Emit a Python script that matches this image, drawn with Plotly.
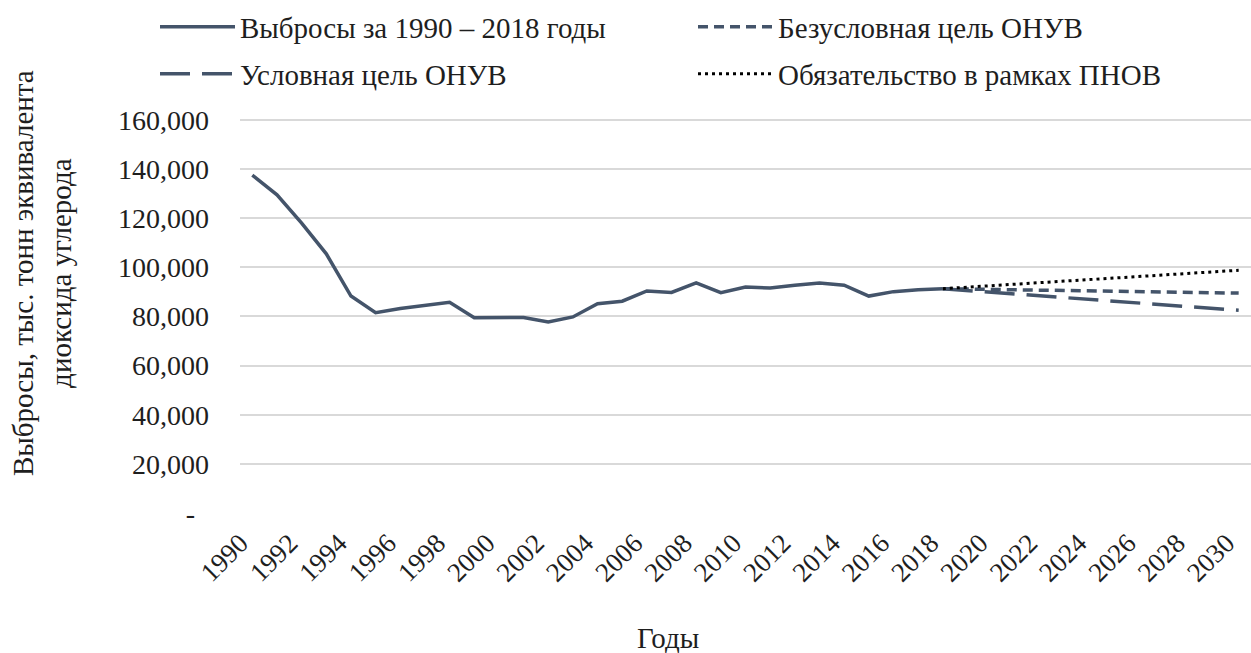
import plotly.graph_objects as go

# ---- data ----
years_hist = list(range(1990, 2019))
emissions = [137500, 129500, 118000, 105500, 88300, 81500, 83200, 84500, 85800,
             79500, 79500, 79600, 77800, 79800, 85200, 86200, 90400, 89800,
             93700, 89700, 92000, 91600, 92700, 93600, 92700, 88300, 90100,
             90900, 91300]
years_target = [2018, 2030]
unconditional = [91300, 89500]
conditional = [91300, 82500]
pnov = [91300, 98800]

x_ticks = list(range(1990, 2031, 2))
y_ticks = [0, 20000, 40000, 60000, 80000, 100000, 120000, 140000, 160000]
y_ticktext = ["-\u00a0\u00a0", "20,000", "40,000", "60,000", "80,000", "100,000",
              "120,000", "140,000", "160,000"]

names = ["Выбросы за 1990 – 2018 годы", "Безусловная цель ОНУВ",
         "Условная цель ОНУВ", "Обязательство в рамках ПНОВ"]

FONT = "Liberation Serif"
TXT = "#1e1e1e"
C = "#44546A"

W, H = 1251, 653
L, R, T, B = 240, 0, 115, 140
pw, ph = W - L - R, H - T - B

def px_x(px):
    return (px - L) / pw

def px_y(py):
    return (H - B - py) / ph

fig = go.Figure()
fig.add_trace(go.Scatter(x=years_hist, y=emissions, mode="lines", name=names[0],
                         line=dict(color=C, width=3.5), legend="legend"))
fig.add_trace(go.Scatter(x=years_target, y=unconditional, mode="lines", name=names[1],
                         line=dict(color=C, width=3.5, dash="10px,6px"), legend="legend2"))
fig.add_trace(go.Scatter(x=years_target, y=conditional, mode="lines", name=names[2],
                         line=dict(color=C, width=3.5, dash="30px,12px"), legend="legend3"))
fig.add_trace(go.Scatter(x=years_target, y=pnov, mode="lines", name=names[3],
                         line=dict(color="#000000", width=3, dash="3px,4px"), legend="legend4"))

leg_common = dict(orientation="h", xanchor="left", yanchor="middle",
                  font=dict(family=FONT, size=29, color=TXT),
                  itemwidth=75, bgcolor="rgba(0,0,0,0)")
col1, col2 = 155, 693
row1, row2 = 27, 74
fig.update_layout(
    width=W, height=H,
    margin=dict(l=L, r=R, t=T, b=B, autoexpand=False),
    paper_bgcolor="white", plot_bgcolor="white",
    font=dict(family=FONT, size=28, color=TXT),
    showlegend=True,
    legend=dict(x=px_x(col1), y=px_y(row1), **leg_common),
    legend2=dict(x=px_x(col2), y=px_y(row1), **leg_common),
    legend3=dict(x=px_x(col1), y=px_y(row2), **leg_common),
    legend4=dict(x=px_x(col2), y=px_y(row2), **leg_common),
    xaxis=dict(range=[1989.5, 2030.5], tickvals=x_ticks, tickangle=-45,
               showgrid=False, zeroline=False, showline=False, ticks="",
               ticklabelstandoff=8, ticklabelshift=-12,
               tickfont=dict(family=FONT, size=27, color=TXT)),
    yaxis=dict(range=[0, 162000], tickvals=y_ticks, ticktext=y_ticktext,
               showgrid=True, gridcolor="#d9d9d9", gridwidth=2,
               zeroline=False, showline=False, ticks="",
               ticklabelstandoff=30,
               tickfont=dict(family=FONT, size=28, color=TXT)),
    annotations=[
        dict(text="Выбросы, тыс. тонн эквивалента<br>диоксида углерода",
             xref="paper", yref="paper", x=px_x(42), y=px_y(273),
             textangle=-90, showarrow=False, xanchor="center", yanchor="middle",
             font=dict(family=FONT, size=29, color=TXT)),
        dict(text="Годы", xref="paper", yref="paper", x=px_x(668), y=px_y(638),
             showarrow=False, xanchor="center", yanchor="middle",
             font=dict(family=FONT, size=29, color=TXT)),
    ],
)

fig.write_html("out.html", config={"displayModeBar": False},
               post_script="document.body.style.margin='0';document.body.style.overflow='hidden';")
